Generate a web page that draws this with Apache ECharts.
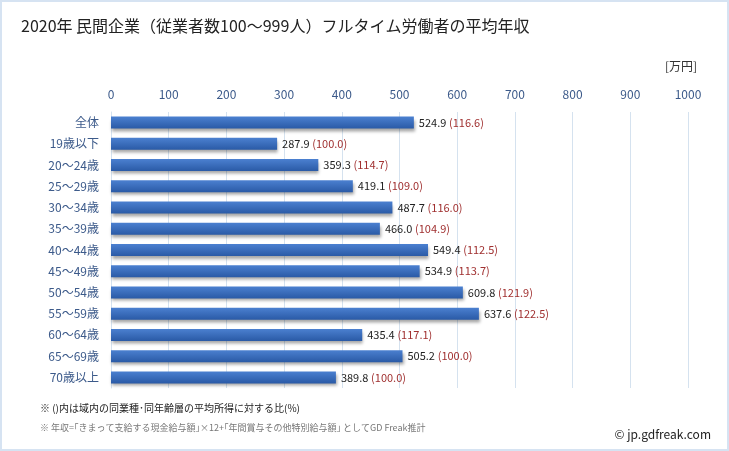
<!DOCTYPE html>
<html><head><meta charset="utf-8">
<script src="https://cdn.jsdelivr.net/npm/echarts@6/dist/echarts.min.js"></script>
<style>html,body{margin:0;padding:0;background:#fff;}#c{width:729px;height:451px;box-sizing:border-box;border:2px solid #d6e3f2;}</style>
</head><body><div id="c"></div>
<script>
const categories = ['全体','19歳以下','20～24歳','25～29歳','30～34歳','35～39歳','40～44歳','45～49歳','50～54歳','55～59歳','60～64歳','65～69歳','70歳以上'];
const incomes = [524.9,287.9,359.3,419.1,487.7,466.0,549.4,534.9,609.8,637.6,435.4,505.2,389.8];
const ratios = [116.6,100.0,114.7,109.0,116.0,104.9,112.5,113.7,121.9,122.5,117.1,100.0,100.0];
const xTicks = [0,100,200,300,400,500,600,700,800,900,1000];

const font = '"Noto Sans CJK JP","Noto Sans",sans-serif';
const chart = echarts.init(document.getElementById('c'), null, {renderer:'canvas'});
chart.setOption({
  backgroundColor:'#fff',
  animation:false,
  title:{text:'2020年 民間企業（従業者数100～999人）フルタイム労働者の平均年収',left:14,top:11,
    textStyle:{fontSize:16,fontWeight:'normal',color:'#222',fontFamily:font}},
  graphic:[
    {type:'text',right:30,top:58,style:{text:'[万円]',fontSize:12,fill:'#333',fontFamily:font}},
    {type:'text',left:38,top:401,style:{text:'※ ()内は域内の同業種･同年齢層の平均所得に対する比(%)',fontSize:10,fill:'#222',fontFamily:font}},
    {type:'text',left:38,top:421,style:{text:'※ 年収=｢きまって支給する現金給与額｣×12+｢年間賞与その他特別給与額｣ としてGD Freak推計',fontSize:9,fill:'#777',fontFamily:font}},
    {type:'text',right:16,top:426,style:{text:'© jp.gdfreak.com',fontSize:12,fill:'#222',fontFamily:font}}
  ],
  grid:{left:109,right:39,top:110,bottom:61,containLabel:false},
  xAxis:{type:'value',min:0,max:1000,interval:100,position:'top',
    axisLabel:{color:'#3c5a8a',fontSize:12,fontFamily:font,margin:12,
      formatter:v=>xTicks.includes(v)?String(v):''},
    axisLine:{show:false},axisTick:{show:false},
    splitLine:{lineStyle:{color:'#d5e2ef',width:1}}},
  yAxis:{type:'category',data:categories,inverse:true,
    axisLabel:{color:'#3c5a8a',fontSize:12,fontFamily:font,margin:12},
    axisLine:{show:true,lineStyle:{color:'#d5e2ef'}},axisTick:{show:false}},
  series:[{type:'bar',data:incomes,barWidth:12,
    itemStyle:{color:new echarts.graphic.LinearGradient(0,0,0,1,[{offset:0,color:'#4b80d0'},{offset:1,color:'#2a5aa6'}]),
      shadowColor:'rgba(0,0,0,0.35)',shadowBlur:3,shadowOffsetY:3,shadowOffsetX:1},
    label:{show:true,position:'right',distance:5,fontFamily:font,
      formatter:p=>'{a|'+p.value.toFixed(1)+'} {b|('+ratios[p.dataIndex].toFixed(1)+')}',
      rich:{a:{color:'#222',fontSize:11,fontFamily:font},b:{color:'#a03030',fontSize:11,fontFamily:font}}}
  }]
});
</script></body></html>
